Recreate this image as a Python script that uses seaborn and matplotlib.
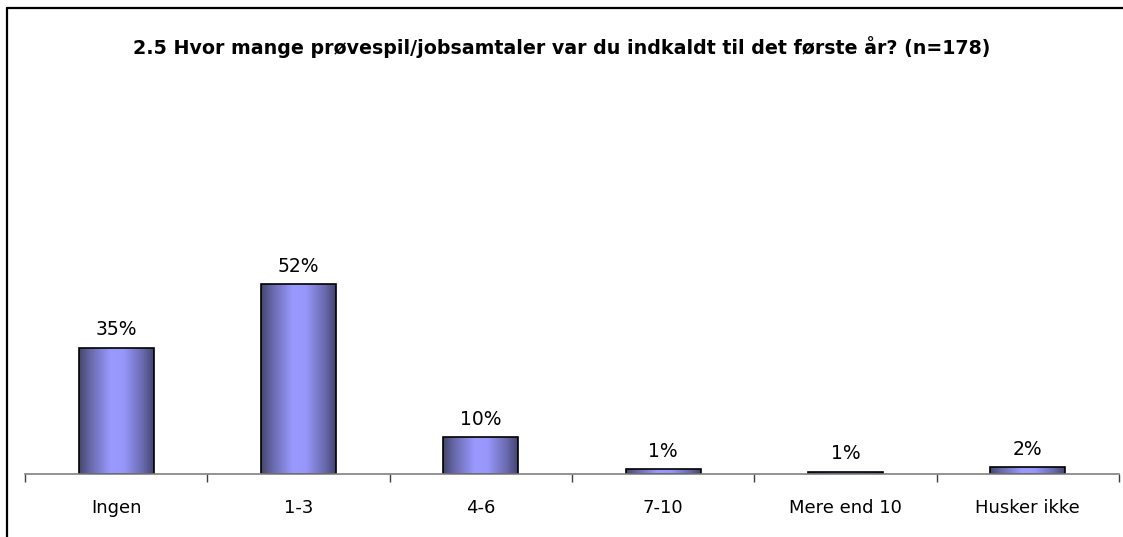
import numpy as np
import pandas as pd
import seaborn as sns
import matplotlib.pyplot as plt
from matplotlib.colors import LinearSegmentedColormap
from matplotlib.lines import Line2D

# data (share of respondents, %)
categories = ['Ingen', '1-3', '4-6', '7-10', 'Mere end 10', 'Husker ikke']
values = [34.8, 52.2, 10.1, 1.4, 0.6, 1.8]
title = '2.5 Hvor mange prøvespil/jobsamtaler var du indkaldt til det første år? (n=178)'

df = pd.DataFrame({'svar': categories, 'pct': values})

sns.set_style('white')
plt.rcParams['font.family'] = ['DejaVu Sans']
plt.rcParams['text.color'] = 'black'
plt.rcParams['xtick.color'] = 'black'

fig = plt.figure(figsize=(11.23, 5.37), dpi=100)
ax = fig.add_axes([25 / 1123, 63 / 537, 1094 / 1123, 374 / 537])

sns.barplot(data=df, x='svar', y='pct', ax=ax, width=0.41,
            color='#9999ff', edgecolor='black', linewidth=1.2, saturation=1)

# cylinder-like horizontal gradient on each bar
cmap = LinearSegmentedColormap.from_list(
    'cyl', [(0, '#45456f'), (0.15, '#6868aa'), (0.42, '#9999ff'),
            (0.6, '#9797fb'), (0.85, '#6a6aae'), (1, '#45456f')])
grad = np.linspace(0, 1, 256).reshape(1, -1)
for bar in ax.patches:
    x0, y0 = bar.get_x(), bar.get_y()
    w, h = bar.get_width(), bar.get_height()
    im = ax.imshow(grad, extent=[x0, x0 + w, y0, y0 + h], aspect='auto',
                   cmap=cmap, zorder=bar.get_zorder() - 0.1)
    im.set_clip_path(bar)
    bar.set_facecolor('none')

for bar, v in zip(ax.patches, values):
    ax.annotate(f'{v:.0f}%', (bar.get_x() + bar.get_width() / 2, bar.get_height()),
                xytext=(0, 6), textcoords='offset points',
                ha='center', va='bottom', fontsize=13.5, color='black')

ax.set_xlim(-0.5, len(categories) - 0.5)
ax.set_ylim(0, 103)
ax.set_xlabel('')
ax.set_ylabel('')
ax.set_yticks([])
ax.set_xticks(np.arange(len(categories)))
ax.set_xticklabels(categories, fontsize=13, color='black')
ax.set_xticks(np.arange(len(categories) + 1) - 0.5, minor=True)
ax.tick_params(axis='x', which='major', length=0, pad=18)
ax.tick_params(axis='x', which='minor', bottom=True, length=6, width=1, color='#404040')
for s in ['top', 'right', 'left']:
    ax.spines[s].set_visible(False)
ax.spines['bottom'].set_color('#808080')
ax.spines['bottom'].set_linewidth(1.2)

fig.text(0.5, 1 - 47 / 537, title, ha='center', va='center',
         fontsize=13.7, fontweight='bold', color='black')

# frame of the chart object (cut off at right and bottom)
fig.add_artist(Line2D([7 / 1123, 1], [1 - 8 / 537, 1 - 8 / 537],
                      transform=fig.transFigure, color='black', lw=1.6))
fig.add_artist(Line2D([7 / 1123, 7 / 1123], [0, 1 - 8 / 537],
                      transform=fig.transFigure, color='black', lw=1.6))

fig.savefig('out.png', dpi=100)
